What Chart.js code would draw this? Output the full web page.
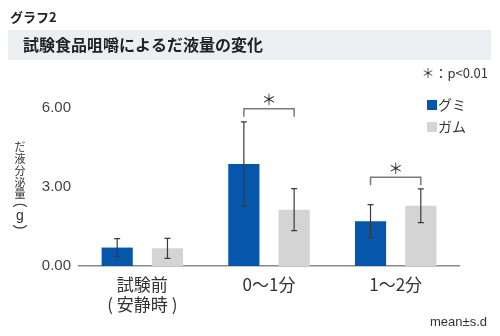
<!DOCTYPE html>
<html lang="ja">
<head>
<meta charset="utf-8">
<script src="https://cdn.jsdelivr.net/npm/chart.js@4/dist/chart.umd.min.js"></script>
<style>
  html, body { margin: 0; padding: 0; background: #ffffff; }
  #wrap { width: 500px; height: 336px; position: relative; }
</style>
</head>
<body>
<div id="wrap"><canvas id="c" width="500" height="336"></canvas></div>
<script>
// Saliva secretion (g) per period, mean and standard deviation
const categories = [["試験前", "( 安静時 )"], "0〜1分", "1〜2分"];
const seriesNames = ["グミ", "ガム"];
const gummyMean = [0.70, 3.87, 1.70];
const gummySd   = [0.34, 1.60, 0.63];
const gumMean   = [0.67, 2.14, 2.29];
const gumSd     = [0.38, 0.80, 0.64];
const yTicks = [0, 3, 6];
// Categories with a significant difference and the value at which the bracket sits
const sigCategories = [1, 2];
const sigLevels = [5.97, 3.37];

const chartTitle = "グラフ2";
const bannerTitle = "試験食品咀嚼によるだ液量の変化";
const yAxisTitle = ["だ", "液", "分", "泌", "量", "(", "g", ")"];
const sigNote = "＊：p<0.01";
const statNote = "mean±s.d";

const BLUE = "#0657ab";
const GRAY = "#d4d4d4";
const FONT = '"Liberation Sans", "Noto Sans CJK JP", sans-serif';
const JFONT = '"Noto Sans CJK JP", "Liberation Sans", sans-serif';

const sds = [gummySd, gumSd];

// Header, banner, y-axis title, legend and notes
const decorPlugin = {
  id: "decor",
  beforeDraw(chart) {
    const ctx = chart.ctx;
    ctx.save();
    ctx.fillStyle = "#ffffff";
    ctx.fillRect(0, 0, chart.width, chart.height);

    ctx.fillStyle = "#222";
    ctx.font = "bold 13px " + JFONT;
    ctx.textBaseline = "middle";
    ctx.textAlign = "left";
    ctx.fillText(chartTitle, 10, 17);

    ctx.fillStyle = "#eceef1";
    ctx.fillRect(8, 30, 483, 30);
    ctx.fillStyle = "#222";
    ctx.font = "bold 16px " + JFONT;
    ctx.fillText(bannerTitle, 23, 45);
    ctx.restore();
  },
  afterDraw(chart) {
    const ctx = chart.ctx;
    ctx.save();
    // vertical y-axis title, one character per row
    const tx = 20;
    ctx.fillStyle = "#333";
    ctx.textAlign = "center";
    ctx.textBaseline = "middle";
    let y = 147;
    yAxisTitle.forEach(ch => {
      if (ch === "(" || ch === ")") {
        ctx.save();
        ctx.translate(tx, ch === "(" ? y - 1 : y + 1);
        ctx.rotate(Math.PI / 2);
        ctx.font = "14px " + FONT;
        ctx.fillText(ch, 0, 0);
        ctx.restore();
        y += 9;
      } else if (ch === "g") {
        ctx.font = "14px " + FONT;
        ctx.fillText(ch, tx, y + 1);
        y += 11;
      } else {
        ctx.font = "11px " + JFONT;
        ctx.fillText(ch, tx, y);
        y += 11.8;
      }
    });

    // notes
    ctx.fillStyle = "#333";
    ctx.textAlign = "right";
    ctx.font = "13px " + JFONT;
    ctx.fillText(sigNote, 488, 73);
    ctx.font = "13px " + FONT;
    ctx.fillText(statNote, 487, 322);

    // legend
    ctx.textAlign = "left";
    ctx.font = "14px " + JFONT;
    chart.data.datasets.forEach((ds, i) => {
      const ly = 105 + i * 22;
      ctx.fillStyle = ds.backgroundColor;
      ctx.fillRect(427, ly - 5, 10, 10);
      ctx.fillStyle = "#333";
      ctx.fillText(ds.label, 438, ly);
    });
    ctx.restore();
  }
};

// Error bars and significance brackets
const errorPlugin = {
  id: "errorBars",
  afterDatasetsDraw(chart) {
    const ctx = chart.ctx;
    const ys = chart.scales.y;
    ctx.save();
    ctx.strokeStyle = "#3a3a3a";
    ctx.lineWidth = 1.2;
    chart.data.datasets.forEach((ds, i) => {
      const meta = chart.getDatasetMeta(i);
      meta.data.forEach((bar, j) => {
        const m = ds.data[j], s = sds[i][j];
        const yt = ys.getPixelForValue(m + s);
        const yb = ys.getPixelForValue(m - s);
        ctx.beginPath();
        ctx.moveTo(bar.x, yt); ctx.lineTo(bar.x, yb);
        ctx.moveTo(bar.x - 3, yt); ctx.lineTo(bar.x + 3, yt);
        ctx.moveTo(bar.x - 3, yb); ctx.lineTo(bar.x + 3, yb);
        ctx.stroke();
      });
    });

    const m0 = chart.getDatasetMeta(0), m1 = chart.getDatasetMeta(1);
    ctx.strokeStyle = "#7a7a7a";
    ctx.lineWidth = 1.5;
    ctx.fillStyle = "#333";
    ctx.font = "15px " + JFONT;
    ctx.textAlign = "center";
    ctx.textBaseline = "middle";
    sigCategories.forEach((c, k) => {
      const x1 = m0.data[c].x, x2 = m1.data[c].x;
      const yy = ys.getPixelForValue(sigLevels[k]);
      ctx.beginPath();
      ctx.moveTo(x1, yy + 8); ctx.lineTo(x1, yy);
      ctx.lineTo(x2, yy); ctx.lineTo(x2, yy + 8);
      ctx.stroke();
      ctx.fillText("＊", (x1 + x2) / 2, yy - 9);
    });
    ctx.restore();
  }
};

new Chart(document.getElementById("c"), {
  type: "bar",
  data: {
    labels: categories,
    datasets: [
      { label: seriesNames[0], data: gummyMean, backgroundColor: BLUE },
      { label: seriesNames[1], data: gumMean, backgroundColor: GRAY }
    ]
  },
  options: {
    responsive: false,
    devicePixelRatio: 1,
    animation: false,
    events: [],
    categoryPercentage: 0.794,
    barPercentage: 0.62,
    layout: { padding: { top: 108, right: 41, left: 0, bottom: 0 } },
    plugins: { legend: { display: false }, tooltip: { enabled: false }, title: { display: false } },
    scales: {
      x: {
        grid: { display: false, drawTicks: false },
        border: { display: true, color: "#8a8a8a", width: 1.5 },
        ticks: { color: "#333", font: { family: JFONT, size: 17, lineHeight: 1.2 }, padding: 8, maxRotation: 0 },
        afterFit(scale) { scale.height = 70; }
      },
      y: {
        min: 0, max: 6,
        afterBuildTicks(scale) { scale.ticks = yTicks.map(v => ({ value: v })); },
        grid: { display: false, drawTicks: false },
        border: { display: false },
        ticks: { color: "#444", font: { family: FONT, size: 15 }, padding: 8, callback: v => Number(v).toFixed(2) },
        afterFit(scale) { scale.width = 79; }
      }
    }
  },
  plugins: [decorPlugin, errorPlugin]
});
</script>
</body>
</html>
